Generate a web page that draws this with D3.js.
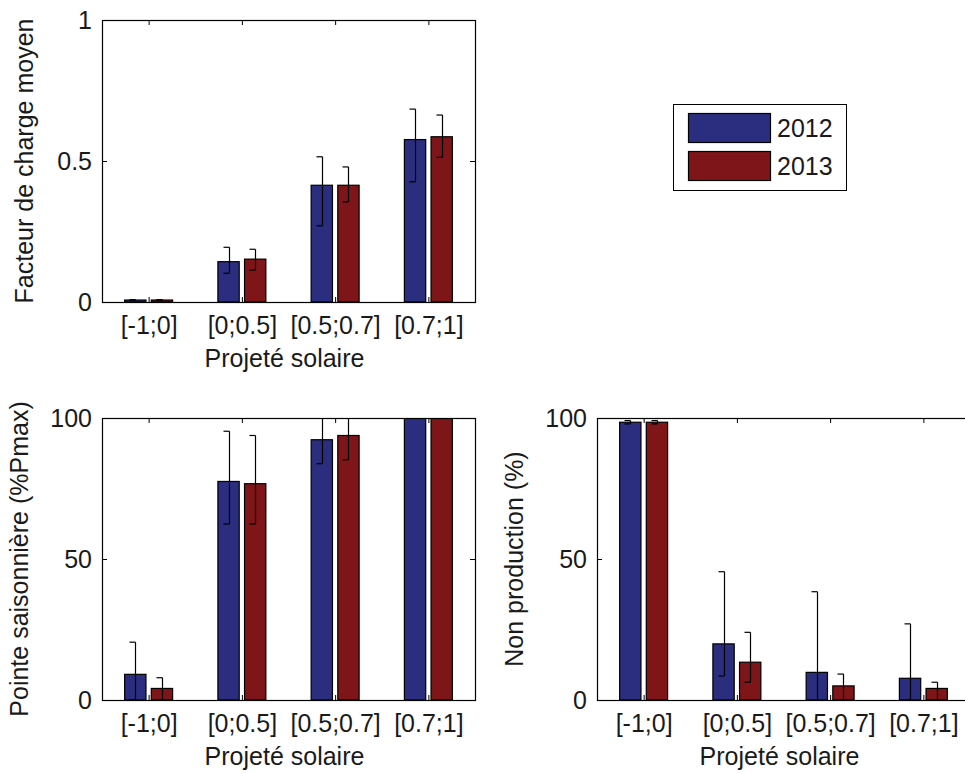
<!DOCTYPE html>
<html>
<head>
<meta charset="utf-8">
<script src="https://cdn.jsdelivr.net/npm/d3@7"></script>
<style>
  html, body { margin: 0; padding: 0; background: #fff; }
  svg { display: block; }
  text { font-family: "Liberation Sans", Arial, sans-serif; fill: #1a1a1a; }
</style>
</head>
<body>
<svg id="chart" width="965" height="774"></svg>
<script>
// ---------- data ----------
const categories = ["[-1;0]", "[0;0.5]", "[0.5;0.7]", "[0.7;1]"];
const years = ["2012", "2013"];
const xAxisTitle = "Projeté solaire";

// Facteur de charge moyen
const facteur2012     = [0.007, 0.143, 0.414, 0.576];
const facteur2012Low  = [0.007, 0.102, 0.270, 0.426];
const facteur2012High = [0.008, 0.194, 0.515, 0.684];
const facteur2013     = [0.007, 0.152, 0.414, 0.586];
const facteur2013Low  = [0.007, 0.113, 0.355, 0.513];
const facteur2013High = [0.008, 0.187, 0.479, 0.663];
const facteurTicks = [0, 0.5, 1];
const facteurTickLabels = ["0", "0.5", "1"];

// Pointe saisonnière (%Pmax)
const pointe2012     = [9.1, 77.5, 92.3, 100];
const pointe2012Low  = [0, 62.4, 83.8, 100];
const pointe2012High = [20.5, 95.3, 101, 100];
const pointe2013     = [4.1, 76.7, 93.8, 100];
const pointe2013Low  = [0, 62.4, 85.2, 100];
const pointe2013High = [7.9, 93.8, 102, 100];

// Non production (%)
const nonprod2012     = [98.5, 19.9, 9.8, 7.7];
const nonprod2012Low  = [97.9, 8.5, 0, 0];
const nonprod2012High = [99.1, 45.5, 38.4, 27.0];
const nonprod2013     = [98.5, 13.4, 5.0, 4.1];
const nonprod2013Low  = [97.9, 6.3, 0, 0];
const nonprod2013High = [99.1, 24.0, 9.2, 6.3];

const pctTicks = [0, 50, 100];
const pctTickLabels = ["0", "50", "100"];

const colors = { "2012": "#2b2d7e", "2013": "#7e1518" };

// ---------- layout ----------
const svg = d3.select("#chart");
const FS = 25;

const panels = [
  { id: "p1", x0: 102, x1: 475, y0: 20, y1: 302, domain: [0, 1],
    ticks: facteurTicks, tickLabels: facteurTickLabels,
    title: "Facteur de charge moyen", titleX: 33,
    series: [
      { year: "2012", v: facteur2012, lo: facteur2012Low, hi: facteur2012High },
      { year: "2013", v: facteur2013, lo: facteur2013Low, hi: facteur2013High } ] },
  { id: "p2", x0: 102, x1: 475, y0: 418, y1: 700, domain: [0, 100],
    ticks: pctTicks, tickLabels: pctTickLabels,
    title: "Pointe saisonnière (%Pmax)", titleX: 28,
    series: [
      { year: "2012", v: pointe2012, lo: pointe2012Low, hi: pointe2012High },
      { year: "2013", v: pointe2013, lo: pointe2013Low, hi: pointe2013High } ] },
  { id: "p3", x0: 597, x1: 970, y0: 418, y1: 700, domain: [0, 100],
    ticks: pctTicks, tickLabels: pctTickLabels,
    title: "Non production (%)", titleX: 523,
    series: [
      { year: "2012", v: nonprod2012, lo: nonprod2012Low, hi: nonprod2012High },
      { year: "2013", v: nonprod2013, lo: nonprod2013Low, hi: nonprod2013High } ] }
];

// MATLAB-style grouped bar geometry (in data units)
const groupWidth = Math.min(0.8, years.length / (years.length + 1.5));
const slot = groupWidth / years.length;
const barW = slot * 0.8;
const offsetOf = j => -groupWidth / 2 + slot / 2 + j * slot;

panels.forEach(p => {
  const x = d3.scaleLinear().domain([0.5, categories.length + 0.5]).range([p.x0, p.x1]);
  const y = d3.scaleLinear().domain(p.domain).range([p.y1, p.y0]);
  const g = svg.append("g");

  svg.append("clipPath").attr("id", "clip-" + p.id)
    .append("rect").attr("x", p.x0).attr("y", p.y0)
    .attr("width", p.x1 - p.x0).attr("height", p.y1 - p.y0);

  const plot = g.append("g").attr("clip-path", `url(#clip-${p.id})`);

  p.series.forEach((s, j) => {
    const off = offsetOf(j);
    plot.selectAll(null).data(s.v).enter().append("rect")
      .attr("x", (d, i) => x(i + 1 + off - barW / 2))
      .attr("width", x(barW) - x(0))
      .attr("y", d => y(d))
      .attr("height", d => y(p.domain[0]) - y(d))
      .attr("fill", colors[s.year])
      .attr("stroke", "#000")
      .attr("stroke-width", 1.2);
  });

  // error bars
  p.series.forEach((s, j) => {
    const off = offsetOf(j);
    const eg = plot.append("g").attr("stroke", "#000").attr("stroke-width", 1.2).attr("fill", "none");
    s.v.forEach((d, i) => {
      const cx = Math.round(x(i + 1 + off)) + 0.5;
      const yl = y(s.lo[i]), yh = y(s.hi[i]);
      eg.append("line").attr("x1", cx).attr("x2", cx).attr("y1", yl).attr("y2", yh);
      eg.append("line").attr("x1", cx - 6).attr("x2", cx).attr("y1", yl).attr("y2", yl);
      eg.append("line").attr("x1", cx - 6).attr("x2", cx).attr("y1", yh).attr("y2", yh);
    });
  });

  // axes
  const yAxis = d3.axisLeft(y).tickValues(p.ticks)
    .tickFormat((d, i) => p.tickLabels[i]).tickSize(-5).tickPadding(10);
  const ya = g.append("g").attr("transform", `translate(${p.x0},0)`).call(yAxis);
  const yAxisR = d3.axisRight(y).tickValues(p.ticks).tickFormat("").tickSize(-5);
  const yr = g.append("g").attr("transform", `translate(${p.x1},0)`).call(yAxisR);

  const xAxis = d3.axisBottom(x).tickValues(d3.range(1, categories.length + 1))
    .tickFormat(i => categories[i - 1]).tickSize(-5).tickPadding(14);
  const xa = g.append("g").attr("transform", `translate(0,${p.y1})`).call(xAxis);
  const xAxisT = d3.axisTop(x).tickValues(d3.range(1, categories.length + 1))
    .tickFormat("").tickSize(-5);
  const xt = g.append("g").attr("transform", `translate(0,${p.y0})`).call(xAxisT);

  [ya, yr, xa, xt].forEach(a => {
    a.select(".domain").remove();
    a.selectAll(".tick line").attr("stroke", "#000").attr("stroke-width", 1);
    a.selectAll("text").style("font-size", FS + "px").attr("fill", "#1a1a1a")
      .style("font-family", "'Liberation Sans', Arial, sans-serif");
  });

  // frame
  g.append("rect").attr("x", p.x0 + 0.5).attr("y", p.y0 + 0.5)
    .attr("width", p.x1 - p.x0).attr("height", p.y1 - p.y0)
    .attr("fill", "none").attr("stroke", "#000").attr("stroke-width", 1.2);

  // titles
  g.append("text").attr("x", (p.x0 + p.x1) / 2 - 4).attr("y", p.y1 + 65)
    .attr("text-anchor", "middle").style("font-size", FS + "px").text(xAxisTitle);
  g.append("text")
    .attr("transform", `translate(${p.titleX},${(p.y0 + p.y1) / 2}) rotate(-90)`)
    .attr("text-anchor", "middle").style("font-size", FS + "px").text(p.title);
});

// legend
const lg = svg.append("g");
lg.append("rect").attr("x", 673.5).attr("y", 104.5).attr("width", 173).attr("height", 86)
  .attr("fill", "#fff").attr("stroke", "#000").attr("stroke-width", 1);
years.forEach((yr, j) => {
  const top = 113 + j * 38;
  lg.append("rect").attr("x", 688.5).attr("y", top + 0.5).attr("width", 82).attr("height", 29)
    .attr("fill", colors[yr]).attr("stroke", "#000").attr("stroke-width", 1.2);
  lg.append("text").attr("x", 777).attr("y", top + 24).style("font-size", FS + "px").text(yr);
});
</script>
</body>
</html>
